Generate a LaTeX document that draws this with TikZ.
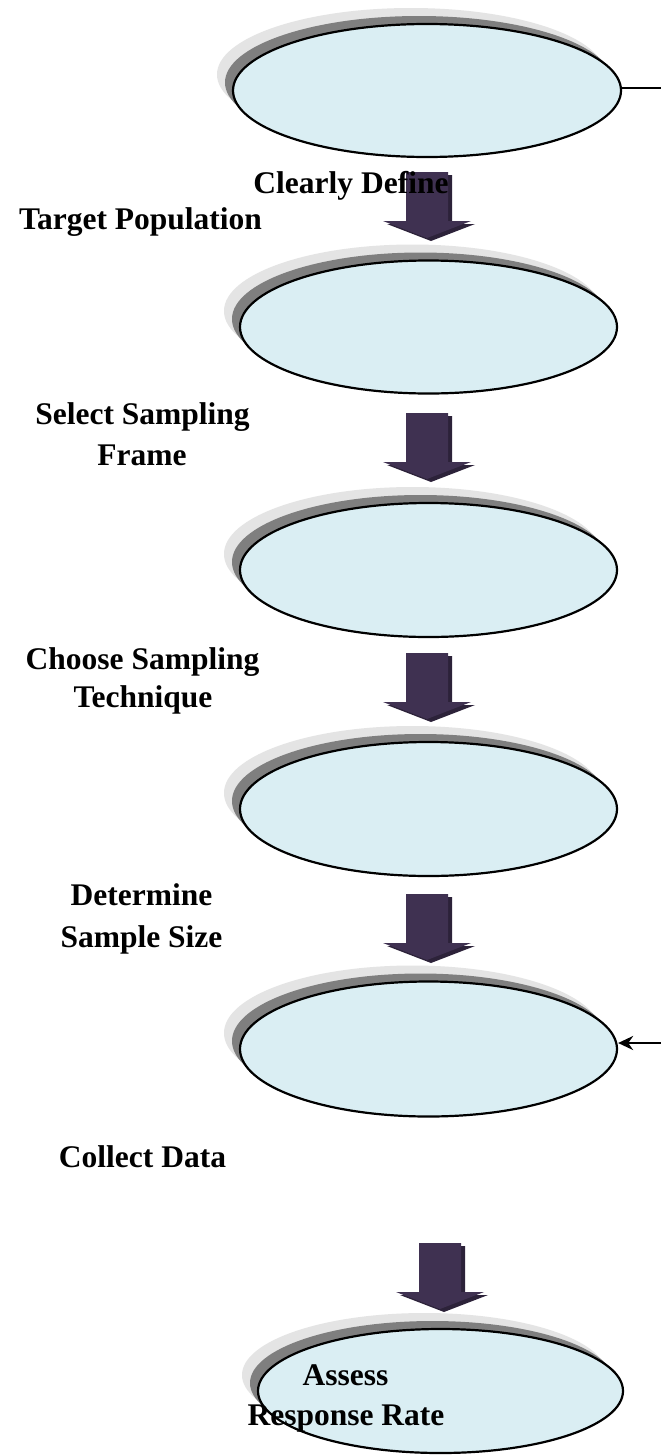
\documentclass[tikz,border=0pt]{standalone}
\usepackage{fontspec}
\setmainfont{Liberation Serif}
\usetikzlibrary{shapes.geometric,shadows,arrows.meta}
\definecolor{ellfill}{HTML}{DAEEF3}
\definecolor{shdark}{HTML}{7F7F7F}
\definecolor{shlight}{HTML}{E4E4E4}
\definecolor{arrfill}{HTML}{3F3151}
\definecolor{arrshade}{HTML}{2C2239}
\begin{document}
\begin{tikzpicture}[x=1pt,y=-1pt,
  stage/.style={ellipse, draw=black, line width=2.2pt, fill=ellfill, inner sep=0pt,
    general shadow={shadow xshift=-16pt, shadow yshift=16pt, fill=shlight},
    general shadow={shadow xshift=-8pt, shadow yshift=8pt, fill=shdark}},
  lbl/.style={font=\bfseries\fontsize{31.5}{38}\selectfont, inner sep=0pt, anchor=base},
  link/.style={draw=black, line width=2.5pt},
  blockarrow/.pic={
    \fill[arrshade, shift={(4,3)}] (-21,0) -- (21,0) -- (21,49) -- (44,49) -- (0,66) -- (-44,49) -- (-21,49) -- cycle;
    \fill[arrfill] (-21,0) -- (21,0) -- (21,49) -- (44,49) -- (0,66) -- (-44,49) -- (-21,49) -- cycle;
  }]
\fill[white] (0,0) rectangle (661,1456);
\useasboundingbox (0,0) rectangle (661,1456);

% stages
\node[stage, minimum width=388pt, minimum height=133pt] (e1) at (427,90.5) {};
\node[stage, minimum width=377pt, minimum height=133pt] (e2) at (428.5,327) {};
\node[stage, minimum width=377pt, minimum height=134pt] (e3) at (428.5,570) {};
\node[stage, minimum width=377pt, minimum height=134pt] (e4) at (428.5,809) {};
\node[stage, minimum width=377pt, minimum height=135pt] (e5) at (428.5,1049) {};
\node[stage, minimum width=365pt, minimum height=124pt] (e6) at (440.5,1391) {};

% block arrows
\pic (a1) at (427,172) {blockarrow};
\pic (a2) at (427,413) {blockarrow};
\pic (a3) at (427,653) {blockarrow};
\pic (a4) at (427,894) {blockarrow};
\pic (a5) at (440,1243) {blockarrow};

% side connectors
\coordinate (r1) at (661,88);
\coordinate (r5) at (661,1043);
\draw[link] (r1 -| e1.east) -- (r1);
\draw[link, -{Stealth[length=15pt,width=14pt]}] (r5) -- (r5 -| e5.east);

% labels
\node[lbl] (t1a) at (351,193) {Clearly Define};
\node[lbl] (t1b) at (140.5,229) {Target Population};
\node[lbl] (t2a) at (142.5,424) {Select Sampling};
\node[lbl] (t2b) at (142,465) {Frame};
\node[lbl] (t3a) at (142.5,669) {Choose Sampling};
\node[lbl] (t3b) at (143,707) {Technique};
\node[lbl] (t4a) at (141.5,905) {Determine};
\node[lbl] (t4b) at (141.5,947) {Sample Size};
\node[lbl] (t5) at (142.5,1167) {Collect Data};
\node[lbl] (t6a) at (345.5,1385) {Assess};
\node[lbl] (t6b) at (346,1425) {Response Rate};
\end{tikzpicture}
\end{document}
